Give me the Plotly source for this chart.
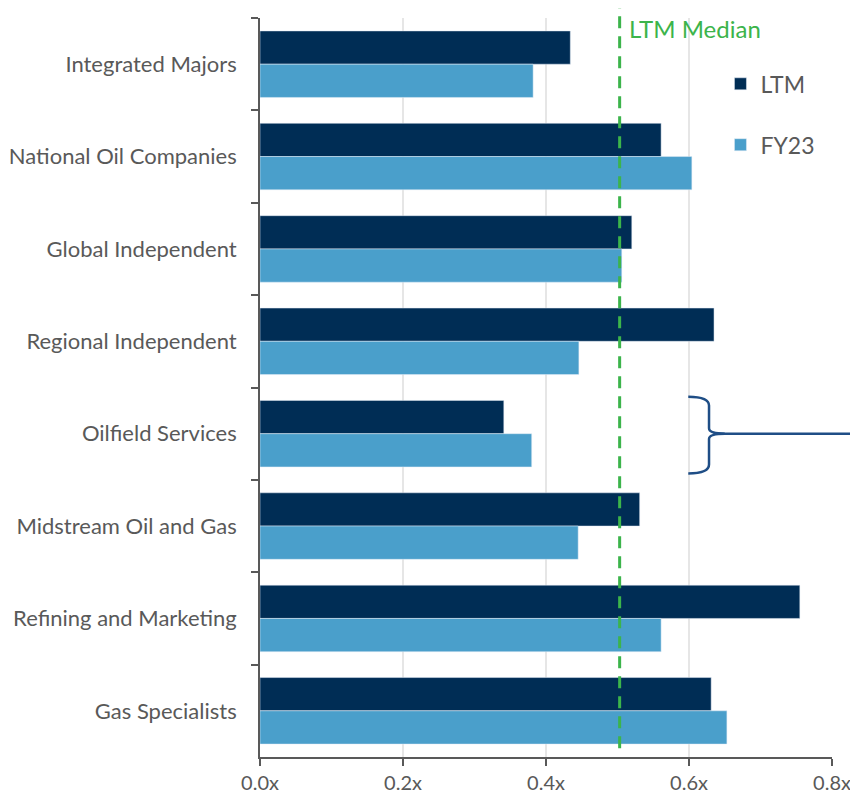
import plotly.graph_objects as go

categories = ["Integrated Majors", "National Oil Companies", "Global Independent",
              "Regional Independent", "Oilfield Services", "Midstream Oil and Gas",
              "Refining and Marketing", "Gas Specialists"]
ltm = [0.434, 0.561, 0.520, 0.635, 0.341, 0.531, 0.755, 0.631]
fy23 = [0.382, 0.604, 0.506, 0.446, 0.380, 0.445, 0.561, 0.653]
ltm_median = 0.503
x_ticks = [0.0, 0.2, 0.4, 0.6, 0.8]
x_tick_labels = ["0.0x", "0.2x", "0.4x", "0.6x", "0.8x"]

FONT = "Lato"
GREY = "#595959"
X_MAX = 0.8


def px(v):
    # data x -> paper x
    return v / X_MAX


def py(pos):
    # category position (0 = top) -> paper y
    return 1 - (pos + 0.5) / len(categories)


fig = go.Figure()
fig.add_trace(go.Bar(y=categories, x=ltm, orientation="h", name="LTM",
                     marker_color="#002d55", legendgroup="a"))
fig.add_trace(go.Bar(y=categories, x=fy23, orientation="h", name="FY23",
                     marker_color="#4a9fcb", legendgroup="b"))

# median line
fig.add_shape(type="line", xref="paper", yref="paper",
              x0=px(ltm_median), x1=px(ltm_median), y0=0.012, y1=1.018,
              line=dict(color="#3cb44b", width=3, dash="12px,8px"))
fig.add_annotation(xref="paper", yref="paper", x=px(ltm_median) + 0.013, y=0.986,
                   text="LTM Median", showarrow=False, xanchor="left", yanchor="middle",
                   font=dict(family=FONT, size=24, color="#3cb44b"))

# brace next to Oilfield Services
i = categories.index("Oilfield Services")
xa, xb, xc = px(0.599), px(0.628), px(0.650)
yt, ym, yb = py(i - 0.40), py(i), py(i + 0.43)
r = 0.012
brace = (f"M {xa},{yt} Q {xb},{yt} {xb},{yt - r} L {xb},{ym + r * 0.6} "
         f"Q {xb},{ym} {xc},{ym} Q {xb},{ym} {xb},{ym - r * 0.6} "
         f"L {xb},{yb + r} Q {xb},{yb} {xa},{yb}")
fig.add_shape(type="path", xref="paper", yref="paper", path=brace,
              line=dict(color="#1f4e86", width=2.5))
fig.add_shape(type="line", xref="paper", yref="paper", x0=xc - 0.01, x1=1.06,
              y0=ym, y1=ym, line=dict(color="#1f4e86", width=2.5))

fig.update_layout(
    width=850, height=788,
    barmode="group", bargap=0.28, bargroupgap=0,
    plot_bgcolor="white", paper_bgcolor="white",
    margin=dict(l=252, r=26, t=10, b=39, autoexpand=False),
    font=dict(family=FONT, color=GREY),
    legend=dict(x=0.805, y=0.94, xanchor="left", yanchor="top",
                font=dict(family=FONT, size=23, color=GREY),
                tracegroupgap=28, itemwidth=30, bgcolor="rgba(0,0,0,0)"),
    xaxis=dict(range=[0, X_MAX], tickvals=x_ticks, ticktext=x_tick_labels,
               showgrid=True, gridcolor="#e6e6e6", gridwidth=1.5, zeroline=False,
               showline=True, linecolor=GREY, linewidth=2, automargin=False,
               ticks="outside", ticklen=7, tickcolor=GREY, tickwidth=2,
               tickfont=dict(size=20, color=GREY)),
    yaxis=dict(autorange="reversed", tickson="boundaries", automargin=False,
               showline=True, linecolor=GREY, linewidth=2,
               ticks="outside", ticklen=7, tickcolor=GREY, tickwidth=2,
               tickfont=dict(size=22, color=GREY), ticksuffix="   ",
               showgrid=False),
)

fig.write_html("out.html")
